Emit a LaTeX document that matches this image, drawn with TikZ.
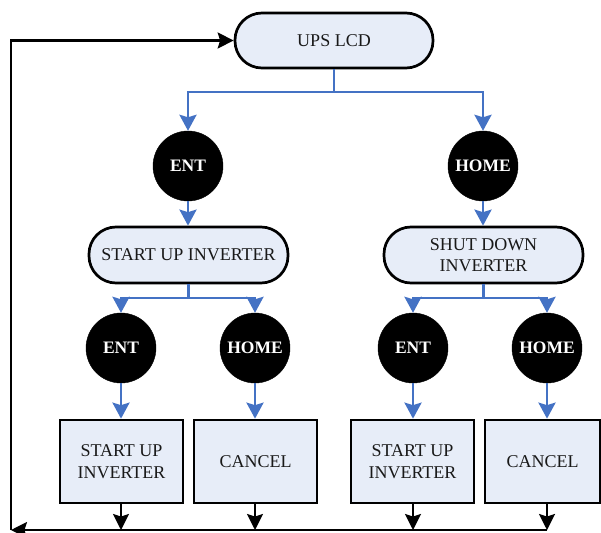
\documentclass[tikz,border=0pt]{standalone}
\usepackage{fontspec}
\setmainfont{Liberation Serif}
\usetikzlibrary{arrows.meta}
\definecolor{boxfill}{HTML}{E7EDF8}
\definecolor{flowblue}{HTML}{4472C4}
\tikzset{
  lbl/.style={font=\fontsize{18}{21.6}\selectfont, align=center, text=black!90},
  stadium/.style={lbl, draw=black, line width=2.7pt, fill=boxfill, rounded corners=27pt, minimum width=199pt, minimum height=56pt, inner sep=0pt},
  keybtn/.style={circle, fill=black, draw=black, minimum size=70pt, inner sep=0pt, text=white, font=\fontsize{17.5}{20}\selectfont\bfseries},
  actbox/.style={lbl, draw=black, line width=2.7pt, fill=boxfill, minimum width=123pt, minimum height=83pt, inner sep=0pt},
  bline/.style={draw=flowblue, line width=2.7pt},
  barrow/.style={bline, -{Stealth[length=16pt,width=17pt,inset=2.5pt]}},
  kline/.style={draw=black, line width=2.2pt},
  karrow/.style={kline, -{Stealth[length=16pt,width=16pt,inset=2.5pt]}},
}
\begin{document}
\begin{tikzpicture}[x=1pt,y=-1pt]
\clip (0,0) rectangle (601,532);
\useasboundingbox (0,0) rectangle (601,532);
% nodes
\node[stadium, minimum width=198pt, minimum height=55pt] (ups) at (334,40.5) {UPS LCD};
\node[keybtn] (ent1) at (188,166) {ENT};
\node[keybtn] (home1) at (483,166) {HOME};
\node[stadium] (su) at (188.5,255) {START UP INVERTER};
\node[stadium] (sd) at (483.5,255) {SHUT DOWN\\INVERTER};
\node[keybtn] (ent2) at (121,348) {ENT};
\node[keybtn] (home2) at (255,348) {HOME};
\node[keybtn] (ent3) at (413,348) {ENT};
\node[keybtn] (home3) at (547,348) {HOME};
\node[actbox] (r1) at (121.5,461.5) {START UP\\INVERTER};
\node[actbox] (r2) at (255.5,461.5) {CANCEL};
\node[actbox] (r3) at (412.5,461.5) {START UP\\INVERTER};
\node[actbox, minimum width=115pt] (r4) at (542.5,461.5) {CANCEL};
% junctions
\coordinate (j0) at (334,92);
\coordinate (j1) at (188.5,298);
\coordinate (j2) at (483.5,298);
\coordinate (b1) at (121,530);
\coordinate (b2) at (255,530);
\coordinate (b3) at (413,530);
\coordinate (bR) at (547,530);
\coordinate (bL) at (11,530);
\coordinate (tL) at (11,40.5);
% blue connectors
\draw[bline] (ups.south) -- (j0);
\draw[barrow] (j0) -| (ent1.north);
\draw[barrow] (j0) -| (home1.north);
\draw[barrow] (ent1.south) -- (su.north -| ent1.south);
\draw[barrow] (home1.south) -- (sd.north -| home1.south);
\draw[bline] (su.south) -- (j1);
\draw[barrow] (j1) -| (ent2.north);
\draw[barrow] (j1) -| (home2.north);
\draw[bline] (sd.south) -- (j2);
\draw[barrow] (j2) -| (ent3.north);
\draw[barrow] (j2) -| (home3.north);
\draw[barrow] (ent2.south) -- (r1.north -| ent2.south);
\draw[barrow] (home2.south) -- (r2.north -| home2.south);
\draw[barrow] (ent3.south) -- (r3.north -| ent3.south);
\draw[barrow] (home3.south) -- (r4.north -| home3.south);
% black return connectors
\draw[karrow] (r1.south -| b1) -- (b1);
\draw[karrow] (r2.south -| b2) -- (b2);
\draw[karrow] (r3.south -| b3) -- (b3);
\draw[karrow] (r4.south -| bR) -- (bR);
\draw[karrow] (bR) -- (bL);
\draw[karrow] (bL) -- (tL) -- (ups.west);
\end{tikzpicture}
\end{document}
